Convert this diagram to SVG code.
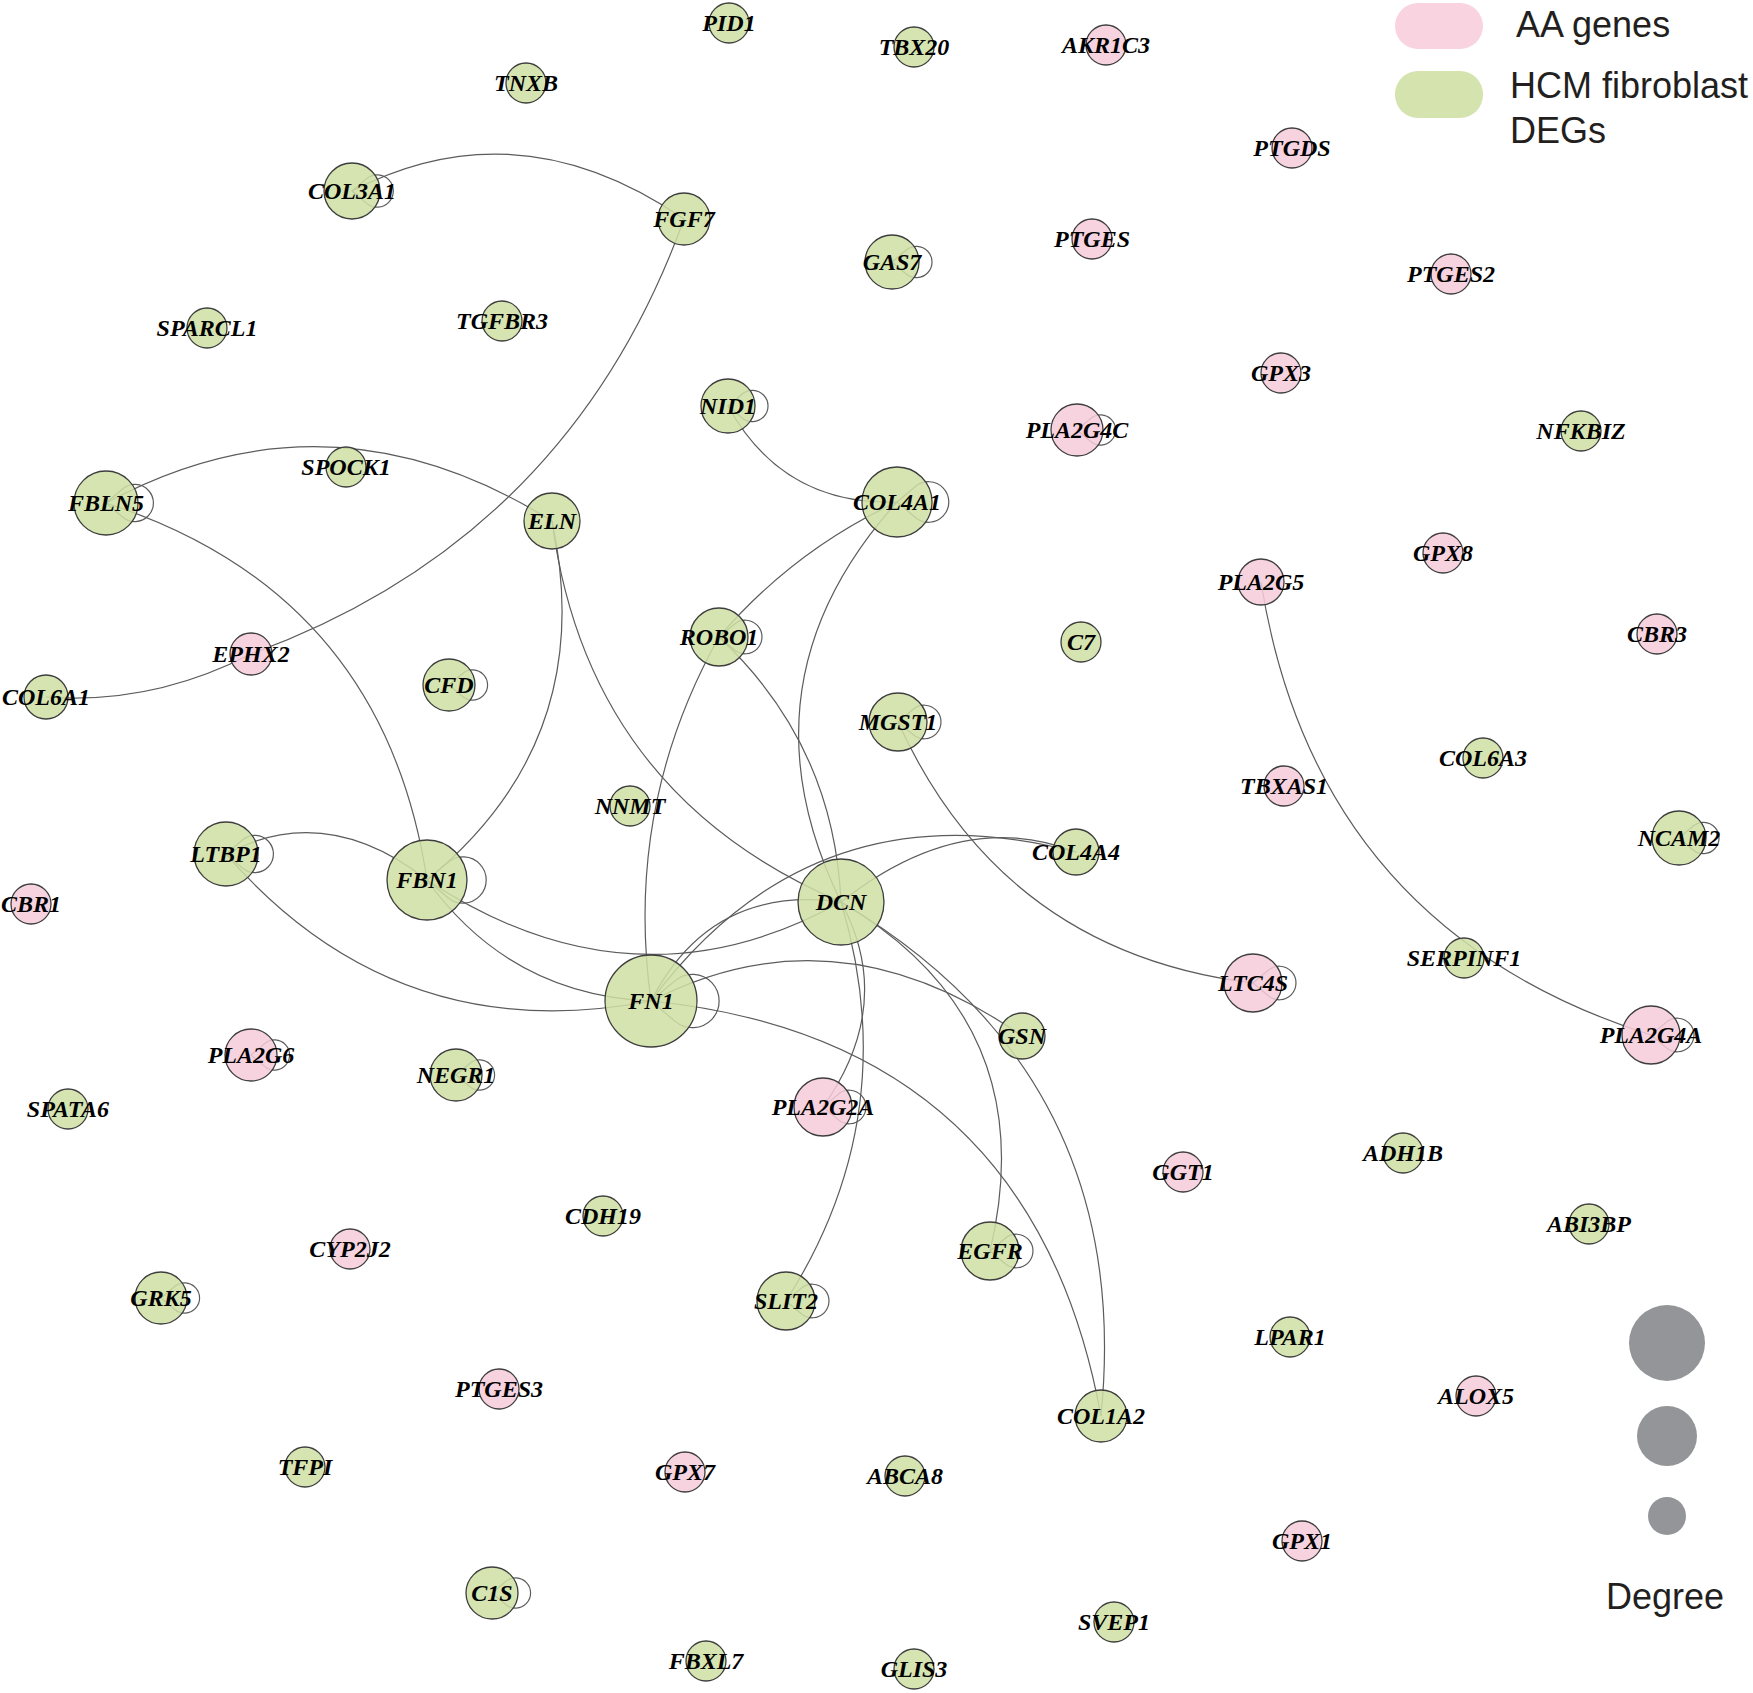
<svg xmlns="http://www.w3.org/2000/svg" width="1753" height="1693" viewBox="0 0 1753 1693">
<style>
.e{fill:none;stroke:#5c5c5c;stroke-width:1.2}
.n circle{stroke:#3d3d3d;stroke-width:1.3;fill-opacity:0.86}
.g circle{fill:#CEDFA3}
.p circle{fill:#F6CCDA}
.n text{font-family:"Liberation Serif","Times New Roman",serif;font-style:italic;font-weight:bold;font-size:24px;text-anchor:middle;fill:#000}
.leg{font-family:"Liberation Sans",Arial,sans-serif;font-size:36px;fill:#231F20}
</style>
<rect width="1753" height="1693" fill="#fff"/>
<g id="connectors">
<path class="e" d="M352,191 Q518,105 684,219"/>
<path class="e" d="M684,219 Q569,538 251,654"/>
<path class="e" d="M251,654 Q152,705 46,697"/>
<path class="e" d="M106,503 Q329,382 552,521"/>
<path class="e" d="M106,503 Q383.5,592.5 427,880"/>
<path class="e" d="M552,521 Q599,740 427,880"/>
<path class="e" d="M552,521 Q587.5,793.7 841,902"/>
<path class="e" d="M728,406 Q783,506 897,502"/>
<path class="e" d="M897,502 Q793.5,550 719,637"/>
<path class="e" d="M897,502 Q734,683 841,902"/>
<path class="e" d="M719,637 Q624,807 651,1001"/>
<path class="e" d="M719,637 Q834,744.5 841,902"/>
<path class="e" d="M898,722 Q1002.8,952.5 1253,983"/>
<path class="e" d="M1076,852 Q961.5,807 841,902"/>
<path class="e" d="M1076,852 Q813,783 651,1001"/>
<path class="e" d="M226,854 Q325.5,801 427,880"/>
<path class="e" d="M226,854 Q396,1050 651,1001"/>
<path class="e" d="M427,880 Q634,1017 841,902"/>
<path class="e" d="M427,880 Q509.6,995 651,1001"/>
<path class="e" d="M651,1001 Q711,884 841,902"/>
<path class="e" d="M651,1001 Q836.5,905.5 1022,1036"/>
<path class="e" d="M651,1001 Q1032,1039.5 1101,1416"/>
<path class="e" d="M841,902 Q896,1003.5 823,1107"/>
<path class="e" d="M841,902 Q904.8,1114.8 786,1301"/>
<path class="e" d="M841,902 Q1044.5,1021.5 990,1251"/>
<path class="e" d="M841,902 Q1135,1076 1101,1416"/>
<path class="e" d="M1261,582 Q1316,928.5 1651,1035"/>
<!-- self loops -->
<path class="e" d="M352,191 L366.7,178.6 A16.2,16.2 0 1 1 366.7,203.4 Z"/>
<path class="e" d="M892,262 L906.2,250 A15.7,15.7 0 1 1 906.2,274 Z"/>
<path class="e" d="M728,406 L742.2,394 A15.7,15.7 0 1 1 742.2,418 Z"/>
<path class="e" d="M1077,430 L1090.7,418.5 A15.1,15.1 0 1 1 1090.7,441.5 Z"/>
<path class="e" d="M106,503 L122.8,488.8 A18.6,18.6 0 1 1 122.8,517.2 Z"/>
<path class="e" d="M449,685 L462.7,673.5 A15.1,15.1 0 1 1 462.7,696.5 Z"/>
<path class="e" d="M897,502 L915.4,486.5 A20.3,20.3 0 1 1 915.4,517.5 Z"/>
<path class="e" d="M719,637 L734.3,624.2 A16.8,16.8 0 1 1 734.3,649.8 Z"/>
<path class="e" d="M898,722 L913.3,709.2 A16.8,16.8 0 1 1 913.3,734.8 Z"/>
<path class="e" d="M1679,838 L1693.2,826 A15.7,15.7 0 1 1 1693.2,850 Z"/>
<path class="e" d="M226,854 L242.8,839.8 A18.6,18.6 0 1 1 242.8,868.2 Z"/>
<path class="e" d="M427,880 L448,862.3 A23.2,23.2 0 1 1 448,897.7 Z"/>
<path class="e" d="M251,1055 L264.7,1043.5 A15.1,15.1 0 1 1 264.7,1066.5 Z"/>
<path class="e" d="M456,1075 L469.7,1063.5 A15.1,15.1 0 1 1 469.7,1086.5 Z"/>
<path class="e" d="M651,1001 L675.2,980.6 A26.7,26.7 0 1 1 675.2,1021.4 Z"/>
<path class="e" d="M823,1107 L838.3,1094.2 A16.8,16.8 0 1 1 838.3,1119.8 Z"/>
<path class="e" d="M990,1251 L1005.3,1238.2 A16.8,16.8 0 1 1 1005.3,1263.8 Z"/>
<path class="e" d="M1253,983 L1268.3,970.2 A16.8,16.8 0 1 1 1268.3,995.8 Z"/>
<path class="e" d="M1651,1035 L1666.3,1022.2 A16.8,16.8 0 1 1 1666.3,1047.8 Z"/>
<path class="e" d="M161,1298 L174.7,1286.5 A15.1,15.1 0 1 1 174.7,1309.5 Z"/>
<path class="e" d="M492,1593 L505.7,1581.5 A15.1,15.1 0 1 1 505.7,1604.5 Z"/>
<path class="e" d="M786,1301 L801.3,1288.2 A16.8,16.8 0 1 1 801.3,1313.8 Z"/>
</g>
<g id="nodes">
<g id="n-TNXB" class="n g"><circle cx="526" cy="83" r="20"/><text x="526" y="91">TNXB</text></g>
<g id="n-COL3A1" class="n g"><circle cx="352" cy="191" r="28"/><text x="352" y="199">COL3A1</text></g>
<g id="n-SPARCL1" class="n g"><circle cx="207" cy="328" r="20"/><text x="207" y="336">SPARCL1</text></g>
<g id="n-TGFBR3" class="n g"><circle cx="502" cy="321" r="20"/><text x="502" y="329">TGFBR3</text></g>
<g id="n-PID1" class="n g"><circle cx="729" cy="23" r="20"/><text x="729" y="31">PID1</text></g>
<g id="n-TBX20" class="n g"><circle cx="914" cy="47" r="20"/><text x="914" y="55">TBX20</text></g>
<g id="n-AKR1C3" class="n p"><circle cx="1106" cy="45" r="20"/><text x="1106" y="53">AKR1C3</text></g>
<g id="n-FGF7" class="n g"><circle cx="684" cy="219" r="26"/><text x="684" y="227">FGF7</text></g>
<g id="n-GAS7" class="n g"><circle cx="892" cy="262" r="27"/><text x="892" y="270">GAS7</text></g>
<g id="n-PTGES" class="n p"><circle cx="1092" cy="239" r="20"/><text x="1092" y="247">PTGES</text></g>
<g id="n-PTGDS" class="n p"><circle cx="1292" cy="148" r="20"/><text x="1292" y="156">PTGDS</text></g>
<g id="n-PTGES2" class="n p"><circle cx="1451" cy="274" r="20"/><text x="1451" y="282">PTGES2</text></g>
<g id="n-GPX3" class="n p"><circle cx="1281" cy="373" r="20"/><text x="1281" y="381">GPX3</text></g>
<g id="n-NFKBIZ" class="n g"><circle cx="1581" cy="431" r="20"/><text x="1581" y="439">NFKBIZ</text></g>
<g id="n-NID1" class="n g"><circle cx="728" cy="406" r="27"/><text x="728" y="414">NID1</text></g>
<g id="n-PLA2G4C" class="n p"><circle cx="1077" cy="430" r="26"/><text x="1077" y="438">PLA2G4C</text></g>
<g id="n-FBLN5" class="n g"><circle cx="106" cy="503" r="32"/><text x="106" y="511">FBLN5</text></g>
<g id="n-SPOCK1" class="n g"><circle cx="346" cy="467" r="20"/><text x="346" y="475">SPOCK1</text></g>
<g id="n-ELN" class="n g"><circle cx="552" cy="521" r="28"/><text x="552" y="529">ELN</text></g>
<g id="n-COL4A1" class="n g"><circle cx="897" cy="502" r="35"/><text x="897" y="510">COL4A1</text></g>
<g id="n-EPHX2" class="n p"><circle cx="251" cy="654" r="21"/><text x="251" y="662">EPHX2</text></g>
<g id="n-COL6A1" class="n g"><circle cx="46" cy="697" r="22"/><text x="46" y="705">COL6A1</text></g>
<g id="n-CFD" class="n g"><circle cx="449" cy="685" r="26"/><text x="449" y="693">CFD</text></g>
<g id="n-ROBO1" class="n g"><circle cx="719" cy="637" r="29"/><text x="719" y="645">ROBO1</text></g>
<g id="n-C7" class="n g"><circle cx="1081" cy="642" r="20"/><text x="1081" y="650">C7</text></g>
<g id="n-MGST1" class="n g"><circle cx="898" cy="722" r="29"/><text x="898" y="730">MGST1</text></g>
<g id="n-NNMT" class="n g"><circle cx="630" cy="806" r="20"/><text x="630" y="814">NNMT</text></g>
<g id="n-GPX8" class="n p"><circle cx="1443" cy="553" r="20"/><text x="1443" y="561">GPX8</text></g>
<g id="n-PLA2G5" class="n p"><circle cx="1261" cy="582" r="23"/><text x="1261" y="590">PLA2G5</text></g>
<g id="n-CBR3" class="n p"><circle cx="1657" cy="634" r="20"/><text x="1657" y="642">CBR3</text></g>
<g id="n-COL6A3" class="n g"><circle cx="1483" cy="758" r="20"/><text x="1483" y="766">COL6A3</text></g>
<g id="n-TBXAS1" class="n p"><circle cx="1284" cy="786" r="20"/><text x="1284" y="794">TBXAS1</text></g>
<g id="n-NCAM2" class="n g"><circle cx="1679" cy="838" r="27"/><text x="1679" y="846">NCAM2</text></g>
<g id="n-LTBP1" class="n g"><circle cx="226" cy="854" r="32"/><text x="226" y="862">LTBP1</text></g>
<g id="n-FBN1" class="n g"><circle cx="427" cy="880" r="40"/><text x="427" y="888">FBN1</text></g>
<g id="n-CBR1" class="n p"><circle cx="31" cy="904" r="20"/><text x="31" y="912">CBR1</text></g>
<g id="n-COL4A4" class="n g"><circle cx="1076" cy="852" r="23"/><text x="1076" y="860">COL4A4</text></g>
<g id="n-DCN" class="n g"><circle cx="841" cy="902" r="43"/><text x="841" y="910">DCN</text></g>
<g id="n-FN1" class="n g"><circle cx="651" cy="1001" r="46"/><text x="651" y="1009">FN1</text></g>
<g id="n-GSN" class="n g"><circle cx="1022" cy="1036" r="23"/><text x="1022" y="1044">GSN</text></g>
<g id="n-LTC4S" class="n p"><circle cx="1253" cy="983" r="29"/><text x="1253" y="991">LTC4S</text></g>
<g id="n-SERPINF1" class="n g"><circle cx="1464" cy="958" r="20"/><text x="1464" y="966">SERPINF1</text></g>
<g id="n-PLA2G4A" class="n p"><circle cx="1651" cy="1035" r="29"/><text x="1651" y="1043">PLA2G4A</text></g>
<g id="n-PLA2G6" class="n p"><circle cx="251" cy="1055" r="26"/><text x="251" y="1063">PLA2G6</text></g>
<g id="n-NEGR1" class="n g"><circle cx="456" cy="1075" r="26"/><text x="456" y="1083">NEGR1</text></g>
<g id="n-SPATA6" class="n g"><circle cx="68" cy="1109" r="20"/><text x="68" y="1117">SPATA6</text></g>
<g id="n-PLA2G2A" class="n p"><circle cx="823" cy="1107" r="29"/><text x="823" y="1115">PLA2G2A</text></g>
<g id="n-GGT1" class="n p"><circle cx="1183" cy="1172" r="20"/><text x="1183" y="1180">GGT1</text></g>
<g id="n-ADH1B" class="n g"><circle cx="1403" cy="1153" r="20"/><text x="1403" y="1161">ADH1B</text></g>
<g id="n-CDH19" class="n g"><circle cx="603" cy="1216" r="20"/><text x="603" y="1224">CDH19</text></g>
<g id="n-ABI3BP" class="n g"><circle cx="1589" cy="1224" r="20"/><text x="1589" y="1232">ABI3BP</text></g>
<g id="n-CYP2J2" class="n p"><circle cx="350" cy="1249" r="20"/><text x="350" y="1257">CYP2J2</text></g>
<g id="n-EGFR" class="n g"><circle cx="990" cy="1251" r="29"/><text x="990" y="1259">EGFR</text></g>
<g id="n-GRK5" class="n g"><circle cx="161" cy="1298" r="26"/><text x="161" y="1306">GRK5</text></g>
<g id="n-SLIT2" class="n g"><circle cx="786" cy="1301" r="29"/><text x="786" y="1309">SLIT2</text></g>
<g id="n-LPAR1" class="n g"><circle cx="1290" cy="1337" r="20"/><text x="1290" y="1345">LPAR1</text></g>
<g id="n-PTGES3" class="n p"><circle cx="499" cy="1389" r="20"/><text x="499" y="1397">PTGES3</text></g>
<g id="n-ALOX5" class="n p"><circle cx="1476" cy="1396" r="20"/><text x="1476" y="1404">ALOX5</text></g>
<g id="n-COL1A2" class="n g"><circle cx="1101" cy="1416" r="26"/><text x="1101" y="1424">COL1A2</text></g>
<g id="n-TFPI" class="n g"><circle cx="305" cy="1467" r="20"/><text x="305" y="1475">TFPI</text></g>
<g id="n-GPX7" class="n p"><circle cx="685" cy="1472" r="20"/><text x="685" y="1480">GPX7</text></g>
<g id="n-ABCA8" class="n g"><circle cx="905" cy="1476" r="20"/><text x="905" y="1484">ABCA8</text></g>
<g id="n-GPX1" class="n p"><circle cx="1302" cy="1541" r="20"/><text x="1302" y="1549">GPX1</text></g>
<g id="n-C1S" class="n g"><circle cx="492" cy="1593" r="26"/><text x="492" y="1601">C1S</text></g>
<g id="n-SVEP1" class="n g"><circle cx="1114" cy="1622" r="20"/><text x="1114" y="1630">SVEP1</text></g>
<g id="n-FBXL7" class="n g"><circle cx="706" cy="1661" r="20"/><text x="706" y="1669">FBXL7</text></g>
<g id="n-GLIS3" class="n g"><circle cx="914" cy="1669" r="20"/><text x="914" y="1677">GLIS3</text></g>
</g>
<g id="legend">
<rect x="1395" y="3" width="88" height="46" rx="23" fill="#F9D3DF"/>
<text class="leg" x="1516" y="37">AA genes</text>
<rect x="1395" y="71" width="88" height="47" rx="23" fill="#D5E4AF"/>
<text class="leg" x="1510" y="98">HCM fibroblast</text>
<text class="leg" x="1510" y="143">DEGs</text>
<circle cx="1667" cy="1343" r="38" fill="#939598"/>
<circle cx="1667" cy="1436" r="30" fill="#939598"/>
<circle cx="1667" cy="1516" r="19" fill="#939598"/>
<text class="leg" x="1665" y="1609" text-anchor="middle">Degree</text>
</g>
</svg>
